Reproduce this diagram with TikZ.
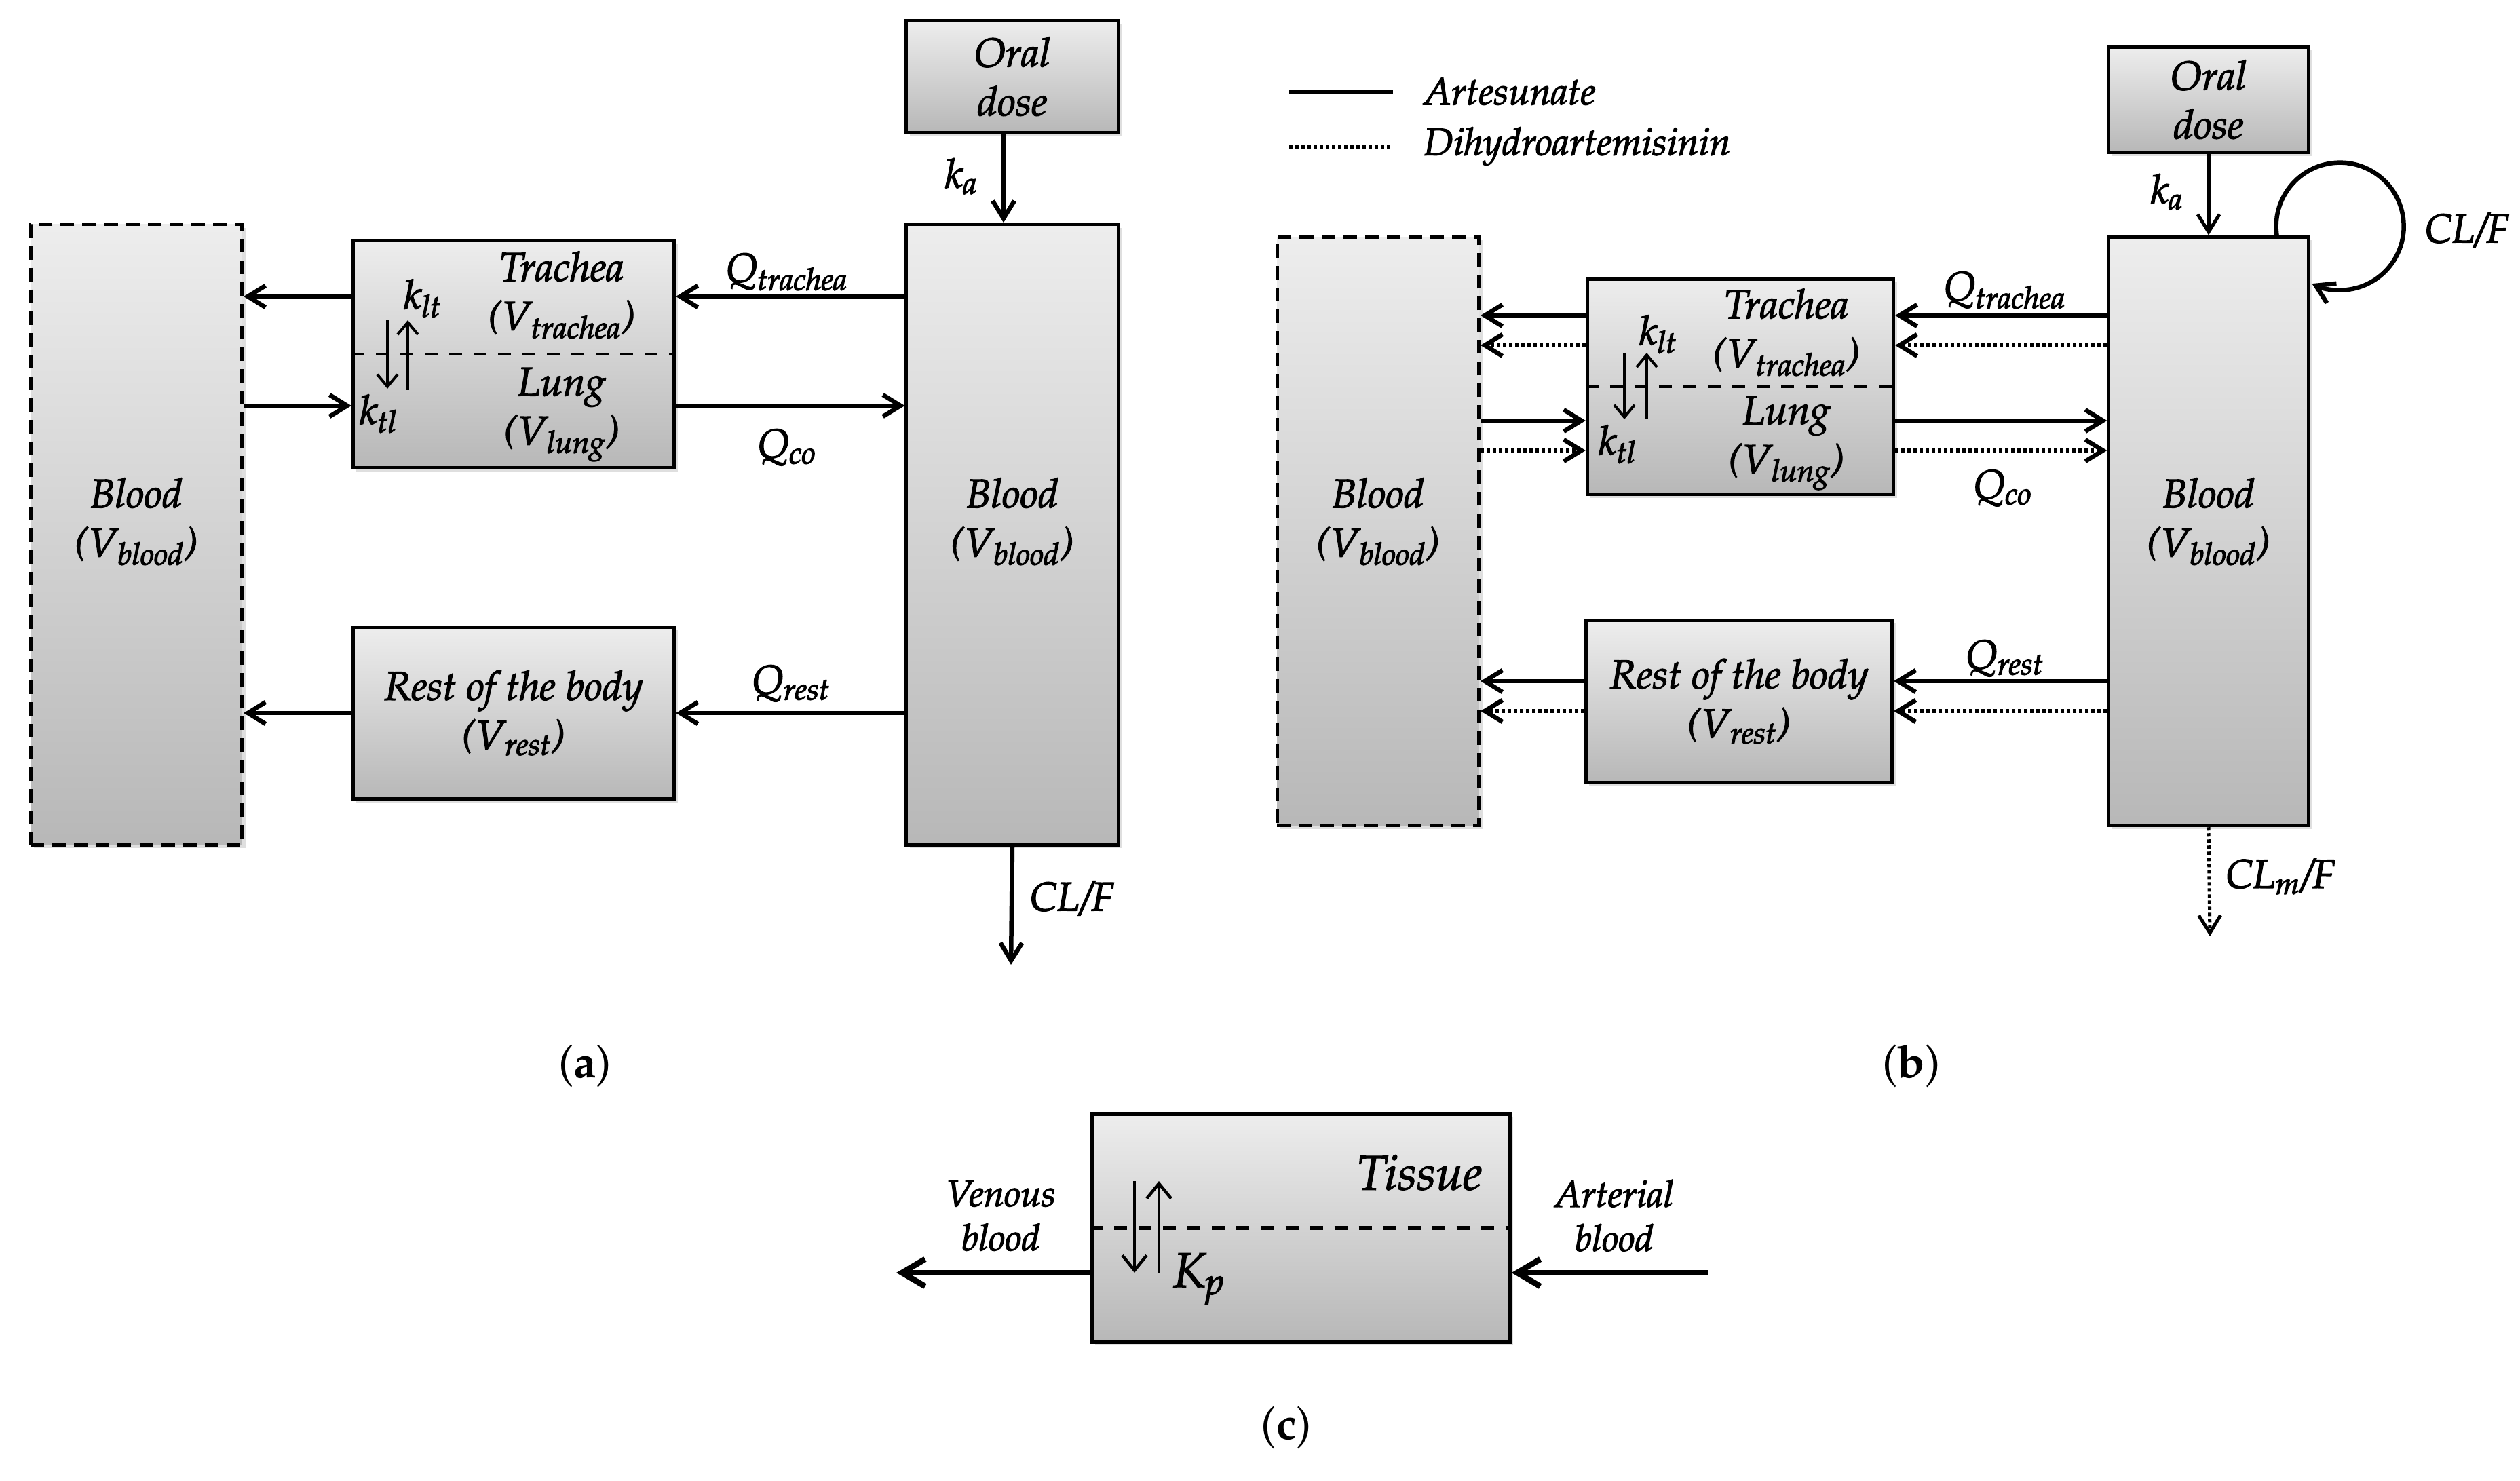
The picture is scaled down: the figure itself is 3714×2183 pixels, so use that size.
\documentclass[tikz,border=0pt]{standalone}
\usepackage[T1]{fontenc}
\usepackage{mathpazo}
\usepackage{tikz}
\usetikzlibrary{arrows.meta,shadows,positioning,calc}
\newcommand\heavytext{\special{pdf:literal direct 2 Tr 0.35 w}}
\newcommand\cmpfont{\fontsize{17}{20.5}\selectfont\itshape\heavytext}
\newcommand\legfont{\fontsize{16}{19}\selectfont\itshape\heavytext}
\newcommand\bigcmpfont{\fontsize{20.5}{24}\selectfont\itshape\heavytext}
\newcommand\sidefont{\fontsize{15.5}{18.5}\selectfont\itshape\heavytext}
\newcommand\panelfont{\fontsize{19}{23}\selectfont}

\begin{document}
\begin{tikzpicture}[x=0.01cm, y=-0.01cm, >={Straight Barb[length=0.26cm,width=0.32cm]},
	comp/.style={draw, line width=0.05cm, top color=black!7, bottom color=black!28, drop shadow={shadow xshift=0.05cm, shadow yshift=-0.05cm, opacity=0.25}, inner sep=0pt, align=center, font=\cmpfont},
	dashcomp/.style={comp, dash pattern=on 0.2cm off 0.12cm},
	flow/.style={->, line width=0.065cm},
	dotflow/.style={flow, dash pattern=on 0.05cm off 0.04cm},
	rate/.style={->, line width=0.04cm, >={Straight Barb[length=0.18cm,width=0.3cm]}},
	split/.style={line width=0.045cm, dash pattern=on 0.19cm off 0.17cm},
	lab/.style={font=\cmpfont, inner sep=0pt, align=center}]
	\useasboundingbox (0,0) rectangle (3714,2183);

	% (a)
	\node (bloodLa) [dashcomp, minimum width=3.11cm, minimum height=9.14cm] at (201,788) {};
	\node (oralA) [comp, minimum width=3.12cm, minimum height=1.64cm] at (1492,113) {Oral\\dose};
	\node (bloodRa) [comp, minimum width=3.12cm, minimum height=9.14cm] at (1492,788) {};
	\node (tlA) [comp, minimum width=4.73cm, minimum height=3.35cm] at (757,522) {};
	\node (restA) [comp, minimum width=4.73cm, minimum height=2.53cm] at (757,1051) {Rest of the body\\(V\textsubscript{rest})};
	\node [lab] at ([yshift=0.19cm]bloodLa.center) {Blood\\(V\textsubscript{blood})};
	\node [lab] at ([yshift=0.19cm]bloodRa.center) {Blood\\(V\textsubscript{blood})};
	\draw [split] (tlA.west) -- (tlA.east);
	\node [lab] at (828,435) {Trachea\\(V\textsubscript{trachea})};
	\node [lab] at (828,611) {Lung\\(V\textsubscript{lung})};
	\draw [rate] (571,472) -- (571,573);
	\draw [rate] (601,575) -- (601,472);
	\node [lab] at (623,440) {k\textsubscript{lt}};
	\node [lab] at (558,610) {k\textsubscript{tl}};
	\coordinate (rowTa) at (0,437);
	\coordinate (rowLa) at (0,598);
	\coordinate (outA) at (1490,1422);
	\draw [flow] (bloodRa.west |- rowTa) -- (tlA.east |- rowTa);
	\draw [flow] (tlA.west |- rowTa) -- (bloodLa.east |- rowTa);
	\draw [flow] (bloodLa.east |- rowLa) -- (tlA.west |- rowLa);
	\draw [flow] (tlA.east |- rowLa) -- (bloodRa.west |- rowLa);
	\draw [flow] (bloodRa.west |- restA.east) -- (restA.east);
	\draw [flow] (restA.west) -- (bloodLa.east |- restA.west);
	\draw [flow] ([xshift=-0.13cm]oralA.south) -- ([xshift=-0.13cm]bloodRa.north);
	\draw [flow] (bloodRa.south) -- (outA);
	\node [lab] at (1160,401) {Q\textsubscript{trachea}};
	\node [lab] at (1160,660) {Q\textsubscript{co}};
	\node [lab] at (1166,1008) {Q\textsubscript{rest}};
	\node [lab] at (1417,260) {k\textsubscript{a}};
	\node [lab] at (1580,1324) {CL/F};
	\node [font=\panelfont] at (862,1571) {(\textbf{a})};

	% (b)
	\draw [line width=0.065cm] (1900,135) -- (2053,135) node [lab, font=\legfont, right=0.42cm] {Artesunate};
	\draw [dotflow, -] (1900,216) -- (2053,216) node [lab, font=\legfont, right=0.42cm] {Dihydroartemisinin};
	\node (bloodLb) [dashcomp, minimum width=2.97cm, minimum height=8.67cm] at (2031,783) {};
	\node (oralB) [comp, minimum width=2.94cm, minimum height=1.55cm] at (3255,147) {Oral\\dose};
	\node (bloodRb) [comp, minimum width=2.94cm, minimum height=8.67cm] at (3255,783) {};
	\node (tlB) [comp, minimum width=4.51cm, minimum height=3.17cm] at (2565,570) {};
	\node (restB) [comp, minimum width=4.51cm, minimum height=2.39cm] at (2563,1034) {Rest of the body\\(V\textsubscript{rest})};
	\node [lab] at ([yshift=0.14cm]bloodLb.center) {Blood\\(V\textsubscript{blood})};
	\node [lab] at ([yshift=0.14cm]bloodRb.center) {Blood\\(V\textsubscript{blood})};
	\draw [split] (tlB.west) -- (tlB.east);
	\node [lab] at (2633,490) {Trachea\\(V\textsubscript{trachea})};
	\node [lab] at (2633,653) {Lung\\(V\textsubscript{lung})};
	\draw [rate] (2394,520) -- (2394,618);
	\draw [rate] (2427,618) -- (2427,520);
	\node [lab] at (2444,493) {k\textsubscript{lt}};
	\node [lab] at (2384,655) {k\textsubscript{tl}};
	\foreach \y/\s in {465/flow,509/dotflow} {
		\draw [\s] (bloodRb.west |- 0,\y) -- (tlB.east |- 0,\y);
		\draw [\s] (tlB.west |- 0,\y) -- (bloodLb.east |- 0,\y);
	}
	\foreach \y/\s in {620/flow,664/dotflow} {
		\draw [\s] (bloodLb.east |- 0,\y) -- (tlB.west |- 0,\y);
		\draw [\s] (tlB.east |- 0,\y) -- (bloodRb.west |- 0,\y);
	}
	\foreach \y/\s in {1004/flow,1048/dotflow} {
		\draw [\s] (bloodRb.west |- 0,\y) -- (restB.east |- 0,\y);
		\draw [\s] (restB.west |- 0,\y) -- (bloodLb.east |- 0,\y);
	}
	\coordinate (outB) at (3257,1380);
	\draw [flow, line width=0.05cm] (oralB.south) -- (bloodRb.north);
	\draw [flow] ([xshift=-0.49cm]bloodRb.north east) arc [start angle=-188, end angle=116, radius=94];
	\draw [dotflow, line width=0.05cm] (bloodRb.south) -- (outB);
	\node [lab] at (2955,428) {Q\textsubscript{trachea}};
	\node [lab] at (2952,720) {Q\textsubscript{co}};
	\node [lab] at (2955,971) {Q\textsubscript{rest}};
	\node [lab] at (3194,283) {k\textsubscript{a}};
	\node [lab] at (3636,339) {CL/F};
	\node [lab] at (3361,1292) {CL\textsubscript{m}/F};
	\node [font=\panelfont] at (2817,1571) {(\textbf{b})};

	% (c)
	\node (tissue) [comp, line width=0.06cm, minimum width=6.15cm, minimum height=3.35cm] at (1917,1810) {};
	\draw [split, line width=0.055cm] (tissue.west) -- (tissue.east);
	\node [lab, font=\bigcmpfont] at (2092,1728) {Tissue};
	\draw [rate, line width=0.045cm, >={Straight Barb[length=0.22cm,width=0.36cm]}] (1672,1741) -- (1672,1876);
	\draw [rate, line width=0.045cm, >={Straight Barb[length=0.22cm,width=0.36cm]}] (1708,1876) -- (1708,1741);
	\node [lab, font=\bigcmpfont] at (1767,1885) {K\textsubscript{p}};
	\coordinate (venC) at (1321,1876);
	\coordinate (artC) at (2517,1876);
	\draw [flow, line width=0.085cm, >={Straight Barb[length=0.34cm,width=0.4cm]}] (tissue.west |- venC) -- (venC);
	\draw [flow, line width=0.085cm, >={Straight Barb[length=0.34cm,width=0.4cm]}] (artC) -- (tissue.east |- artC);
	\node [lab, font=\sidefont] at (1475,1792) {Venous\\blood};
	\node [lab, font=\sidefont] at (2379,1792) {Arterial\\blood};
	\node [font=\panelfont] at (1896,2104) {(\textbf{c})};
\end{tikzpicture}
\end{document}
